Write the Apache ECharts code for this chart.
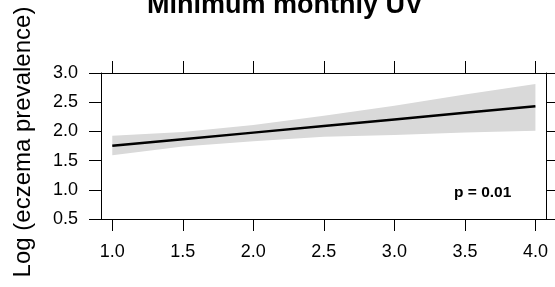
<!DOCTYPE html>
<html>
<head>
<meta charset="utf-8">
<script src="https://cdn.jsdelivr.net/npm/echarts@6/dist/echarts.min.js"></script>
<style>
  html, body { margin: 0; padding: 0; background: #fff; }
  #chart { width: 555px; height: 287px; }
</style>
</head>
<body>
<div id="chart"></div>
<script>
// values
const uvValues = [1.0, 1.5, 2.0, 2.5, 3.0, 3.5, 4.0]
const fitValues = [1.753, 1.866, 1.979, 2.092, 2.205, 2.318, 2.43]
const upperValues = [1.925, 1.99, 2.11, 2.27, 2.44, 2.63, 2.81]
const lowerValues = [1.59, 1.74, 1.83, 1.91, 1.94, 1.98, 2.01]
const xTicks = [1.0, 1.5, 2.0, 2.5, 3.0, 3.5, 4.0]

const font = 'Liberation Sans, Arial, sans-serif'
const chart = echarts.init(document.getElementById('chart'), null, { renderer: 'canvas' })

const pairs = (ys) => uvValues.map((x, i) => [x, ys[i]])
const bandData = uvValues.map((x, i) => [x, lowerValues[i], upperValues[i]])

// confidence band as one polygon: upper edge left->right, lower edge back
const renderBand = (params, api) => {
  if (params.dataIndex !== 0) return
  const top = uvValues.map((x, i) => api.coord([x, upperValues[i]]))
  const bottom = uvValues.map((x, i) => api.coord([x, lowerValues[i]])).reverse()
  return {
    type: 'polygon',
    shape: { points: top.concat(bottom) },
    style: { fill: '#d9d9d9' },
    silent: true
  }
}

const xCommon = {
  type: 'value',
  min: 0.92,
  max: 4.075,
  splitLine: { show: false },
  axisLine: { show: true, onZero: false, lineStyle: { color: '#000', width: 1 } },
  axisTick: { show: true, inside: false, length: 12, customValues: xTicks, lineStyle: { color: '#000', width: 1 } }
}

const yCommon = {
  type: 'value',
  min: 0.5,
  max: 3.0,
  interval: 0.5,
  splitLine: { show: false },
  axisLine: { show: true, onZero: false, lineStyle: { color: '#000', width: 1 } },
  axisTick: { show: true, inside: false, length: 12, lineStyle: { color: '#000', width: 1 } }
}

chart.setOption({
  animation: false,
  textStyle: { fontFamily: font },
  title: {
    text: 'Minimum monthly UV',
    left: 147,
    top: -8,
    padding: 0,
    textStyle: { fontFamily: font, fontSize: 27, fontWeight: 'bold', color: '#000' }
  },
  grid: { left: 101, right: 9, top: 73, bottom: 68 },
  xAxis: [
    Object.assign({}, xCommon, {
      position: 'bottom',
      axisLabel: {
        show: true, customValues: xTicks, margin: 24,
        fontFamily: font, fontSize: 18, color: '#000',
        formatter: (v) => v.toFixed(1)
      }
    }),
    Object.assign({}, xCommon, { position: 'top', axisLabel: { show: false } })
  ],
  yAxis: [
    Object.assign({}, yCommon, {
      position: 'left',
      name: 'Log (eczema prevalence)',
      nameLocation: 'middle',
      nameGap: 66,
      nameTextStyle: { fontFamily: font, fontSize: 24, color: '#000', padding: [0, 0, 0, 8] },
      axisLabel: {
        show: true, margin: 23, fontFamily: font, fontSize: 18, color: '#000',
        formatter: (v) => v.toFixed(1)
      }
    }),
    Object.assign({}, yCommon, { position: 'right', axisLabel: { show: false } })
  ],
  graphic: [
    {
      type: 'text',
      left: 454,
      top: 185,
      z: 10,
      style: { text: 'p = 0.01', font: 'bold 15.5px ' + font, fill: '#000' }
    }
  ],
  series: [
    {
      name: 'band',
      type: 'custom',
      data: bandData,
      encode: { x: 0, y: [1, 2] },
      renderItem: renderBand,
      silent: true,
      z: 1
    },
    {
      name: 'fit',
      type: 'line',
      data: pairs(fitValues),
      showSymbol: false,
      silent: true,
      lineStyle: { color: '#000', width: 2.5 },
      z: 3
    }
  ]
})
</script>
</body>
</html>
